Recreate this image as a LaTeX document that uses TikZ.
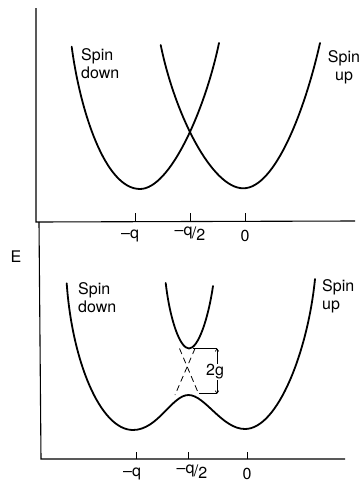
\documentclass[tikz,border=0pt]{standalone}
\usepackage{fontspec}
\setmainfont{TeX Gyre Heros}
\usetikzlibrary{arrows.meta}
\begin{document}
\begin{tikzpicture}[x=1pt,y=-1pt,
  curve/.style={line width=1.8pt, line join=round, line cap=round},
  axis/.style={line width=1.1pt},
  tickmark/.style={line width=0.7pt},
  lbl/.style={font=\fontsize{16}{18}\selectfont, inner sep=0pt},
  dsh/.style={line width=0.8pt, dash pattern=on 6pt off 4pt},
  thin line/.style={line width=0.7pt}]
\useasboundingbox (0,0) rectangle (361,485);

% ---------- top panel ----------
\coordinate (tO) at (36,222);
\coordinate (tTop) at (36,8);
\coordinate (tR) at (355,221);
\draw[axis] (tTop) -- (tO) -- (tR);
\foreach \x/\n in {135/tq,190/tqh,245/tz}{
  \coordinate (\n) at (\x,221);
  \draw[tickmark] (\n) -- ++(0,-8);
}
\node[lbl] (tlq) at (130,236) {–q};
\node[lbl] (tlqh) at (190,234) {\raisebox{3pt}{–q}\kern-0.5pt/\raisebox{-2pt}{2}};
\node[lbl] (tlz) at (245,236) {0};

% spin down (top)
\draw[curve] (71.7,46.7) .. controls (80,110) and (105,189) .. (140,189)
  .. controls (170,189) and (205,110) .. (219,43);
% spin up (top)
\draw[curve] (160.7,45) .. controls (175,115) and (212,188.3) .. (243.3,188.3)
  .. controls (275,188.3) and (305,110) .. (320,43);

\node[lbl, anchor=north west, align=left] (tdown) at (81,48) {Spin\\down};
\node[lbl, anchor=north, align=center] (tup) at (344,50) {Spin\\up};

% ---------- bottom panel ----------
\coordinate (bTop) at (39,222);
\coordinate (bO) at (41,459);
\coordinate (bR) at (345,459);
\draw[axis] (bTop) -- (bO) -- (bR);
\foreach \x/\n in {136/bq,188.5/bqh,247/bz}{
  \coordinate (\n) at (\x,459);
  \draw[tickmark] (\n) -- ++(0,-7);
}
\node[lbl] (blq) at (132,474) {–q};
\node[lbl] (blqh) at (192,472) {\raisebox{3pt}{–q}\kern-0.5pt/\raisebox{-2pt}{2}};
\node[lbl] (blz) at (247,474) {0};

\node[lbl] (E) at (16,257) {E};

% lower branch
\draw[curve] (66.7,283.3) .. controls (72,360) and (100,430) .. (133,430)
  .. controls (158,430) and (172,395) .. (188.5,395)
  .. controls (205,395) and (222,429) .. (245,429)
  .. controls (278,429) and (308,350) .. (315,279);
% upper branch
\draw[curve] (165.7,283) .. controls (170,320) and (180,348.5) .. (189,348.5)
  .. controls (198,348.5) and (208,320) .. (213,286);

% dashed crossing
\coordinate (dA) at (179.5,348.5);
\coordinate (dB) at (198.5,393.5);
\coordinate (dC) at (195,348.5);
\coordinate (dD) at (175,395);
\draw[dsh] (dA) -- (dB);
\draw[dsh] (dC) -- (dD);

% 2g bracket
\coordinate (gT1) at (193,348.3);
\coordinate (gT2) at (217,348.3);
\coordinate (gB1) at (199,393.8);
\coordinate (gB2) at (217,393.8);
\draw[thin line] (gT1) -- (gT2);
\draw[thin line] (gB1) -- (gB2);
\draw[thin line, {Straight Barb[length=2.5pt,width=3.5pt]}-{Straight Barb[length=2.5pt,width=3.5pt]}] (gT2) -- (gB2);
\node[lbl, fill=white, inner sep=1pt] (g2) at (215,372) {2g};

\node[lbl, anchor=north west, align=left] (bdown) at (78,282) {Spin\\down};
\node[lbl, anchor=north west, align=left] (bup) at (322,279) {Spin\\up};
\end{tikzpicture}
\end{document}
